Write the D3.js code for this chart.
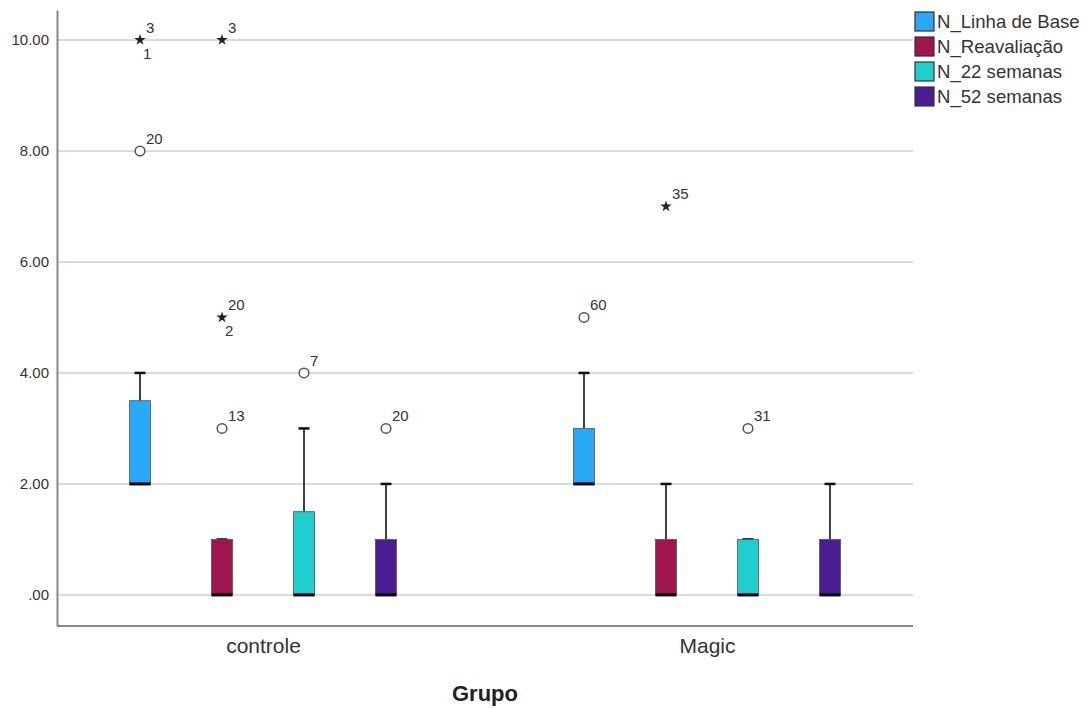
<!DOCTYPE html>
<html>
<head>
<meta charset="utf-8">
<script src="https://d3js.org/d3.v7.min.js"></script>
<style>
  body { margin: 0; background: #fff; }
  text { font-family: "Liberation Sans", Arial, sans-serif; }
</style>
</head>
<body>
<div id="chart"></div>
<script>
// categories and series
const groups = ['controle', 'Magic'];
const series = ['N_Linha de Base', 'N_Reavaliação', 'N_22 semanas', 'N_52 semanas'];
const colors = ['#2aa8f8', '#a0164c', '#1fcfcf', '#4b1d92'];

// box stats per group, in series order: [lowWhisker, q1, median, q3, highWhisker]
const controleStats = [[2, 2, 2, 3.5, 4], [0, 0, 0, 1, 1], [0, 0, 0, 1.5, 3], [0, 0, 0, 1, 2]];
const magicStats = [[2, 2, 2, 3, 4], [0, 0, 0, 1, 2], [0, 0, 0, 1, 1], [0, 0, 0, 1, 2]];

// outliers: group, series index, value, kind (o = circle, * = extreme), case labels
const outliers = [
  {g: 'controle', s: 0, v: 10, kind: '*', labels: ['3', '1']},
  {g: 'controle', s: 0, v: 8, kind: 'o', labels: ['20']},
  {g: 'controle', s: 1, v: 10, kind: '*', labels: ['3']},
  {g: 'controle', s: 1, v: 5, kind: '*', labels: ['20', '2']},
  {g: 'controle', s: 1, v: 3, kind: 'o', labels: ['13']},
  {g: 'controle', s: 2, v: 4, kind: 'o', labels: ['7']},
  {g: 'controle', s: 3, v: 3, kind: 'o', labels: ['20']},
  {g: 'Magic', s: 0, v: 5, kind: 'o', labels: ['60']},
  {g: 'Magic', s: 1, v: 7, kind: '*', labels: ['35']},
  {g: 'Magic', s: 2, v: 3, kind: 'o', labels: ['31']}
];

const yTicks = [0, 2, 4, 6, 8, 10];

const width = 1089, height = 709;
const plot = {left: 57, right: 913, top: 10, bottom: 626};

const svg = d3.select('#chart').append('svg')
  .attr('width', width).attr('height', height);

const x = d3.scalePoint().domain(groups).range([plot.left, plot.right]).padding(0.464);
const xs = d3.scalePoint().domain(series).range([-123, 123]);
const y = d3.scaleLinear().domain([-0.56, 10.54]).range([plot.bottom, plot.top]);
const boxW = 21, capW = 11;

// gridlines
svg.append('g')
  .selectAll('line').data(yTicks).join('line')
  .attr('x1', plot.left).attr('x2', plot.right)
  .attr('y1', d => y(d)).attr('y2', d => y(d))
  .attr('stroke', '#cfcfcf').attr('stroke-width', 1.5);

// y axis
const yAxis = svg.append('g')
  .attr('transform', `translate(${plot.left},0)`)
  .call(d3.axisLeft(y).tickValues(yTicks).tickSize(0).tickPadding(8)
    .tickFormat(d => d === 0 ? '.00' : d3.format('.2f')(d)));
yAxis.select('.domain').attr('stroke', '#888').attr('stroke-width', 2);
yAxis.selectAll('text').attr('font-size', '15px').attr('fill', '#333')
  .attr('font-family', '"Liberation Sans", Arial, sans-serif');

// x axis
const xAxis = svg.append('g')
  .attr('transform', `translate(0,${plot.bottom})`)
  .call(d3.axisBottom(x).tickSize(0).tickPadding(12));
xAxis.select('.domain').attr('stroke', '#888').attr('stroke-width', 2)
  .attr('d', `M${plot.left},0H${plot.right}`);
xAxis.selectAll('text').attr('font-size', '21px').attr('fill', '#333')
  .attr('font-family', '"Liberation Sans", Arial, sans-serif');

// axis title
svg.append('text')
  .attr('x', 485).attr('y', 701)
  .attr('text-anchor', 'middle')
  .attr('font-size', '22px').attr('font-weight', 'bold').attr('fill', '#222')
  .text('Grupo');

// boxes
const boxes = [];
groups.forEach((g, gi) => {
  const stats = gi === 0 ? controleStats : magicStats;
  stats.forEach((s, si) => boxes.push({g, si, s}));
});

const bx = d => x(d.g) + xs(series[d.si]);

const bg = svg.append('g').selectAll('g').data(boxes).join('g');

// whisker line
bg.append('line')
  .attr('x1', bx).attr('x2', bx)
  .attr('y1', d => y(d.s[3])).attr('y2', d => y(d.s[4]))
  .attr('stroke', '#111').attr('stroke-width', 1.6);
bg.append('line')
  .attr('x1', d => bx(d) - capW / 2).attr('x2', d => bx(d) + capW / 2)
  .attr('y1', d => y(d.s[4])).attr('y2', d => y(d.s[4]))
  .attr('stroke', '#111').attr('stroke-width', 2.5);

bg.append('rect')
  .attr('x', d => bx(d) - boxW / 2).attr('width', boxW)
  .attr('y', d => y(d.s[3])).attr('height', d => y(d.s[1]) - y(d.s[3]))
  .attr('fill', d => colors[d.si]).attr('stroke', '#555').attr('stroke-width', 0.8);

// median
bg.append('line')
  .attr('x1', d => bx(d) - boxW / 2).attr('x2', d => bx(d) + boxW / 2)
  .attr('y1', d => y(d.s[2])).attr('y2', d => y(d.s[2]))
  .attr('stroke', '#000').attr('stroke-width', 3);

// outliers
const ox = d => x(d.g) + xs(series[d.s]);
const og = svg.append('g').selectAll('g').data(outliers).join('g')
  .attr('transform', d => `translate(${ox(d)},${y(d.v)})`);

og.filter(d => d.kind === 'o').append('circle')
  .attr('r', 4.8).attr('fill', '#fff').attr('stroke', '#555').attr('stroke-width', 1.5);
og.filter(d => d.kind === '*').append('path')
  .attr('d', d3.symbol(d3.symbolStar, 40))
  .attr('fill', '#222');

og.append('text')
  .attr('x', 6).attr('y', -7)
  .attr('font-size', '15px').attr('fill', '#333')
  .text(d => d.labels[0]);
og.filter(d => d.labels.length > 1).append('text')
  .attr('x', 3).attr('y', 19)
  .attr('font-size', '15px').attr('fill', '#333')
  .text(d => d.labels[1]);

// legend
const lg = svg.append('g').selectAll('g').data(series).join('g')
  .attr('transform', (d, i) => `translate(915,${12 + i * 25})`);
lg.append('rect')
  .attr('width', 19).attr('height', 19)
  .attr('fill', (d, i) => colors[i]).attr('stroke', '#333').attr('stroke-width', 1.2);
lg.append('text')
  .attr('x', 22).attr('y', 16)
  .attr('font-size', '18.6px').attr('fill', '#333')
  .text(d => d);
</script>
</body>
</html>
